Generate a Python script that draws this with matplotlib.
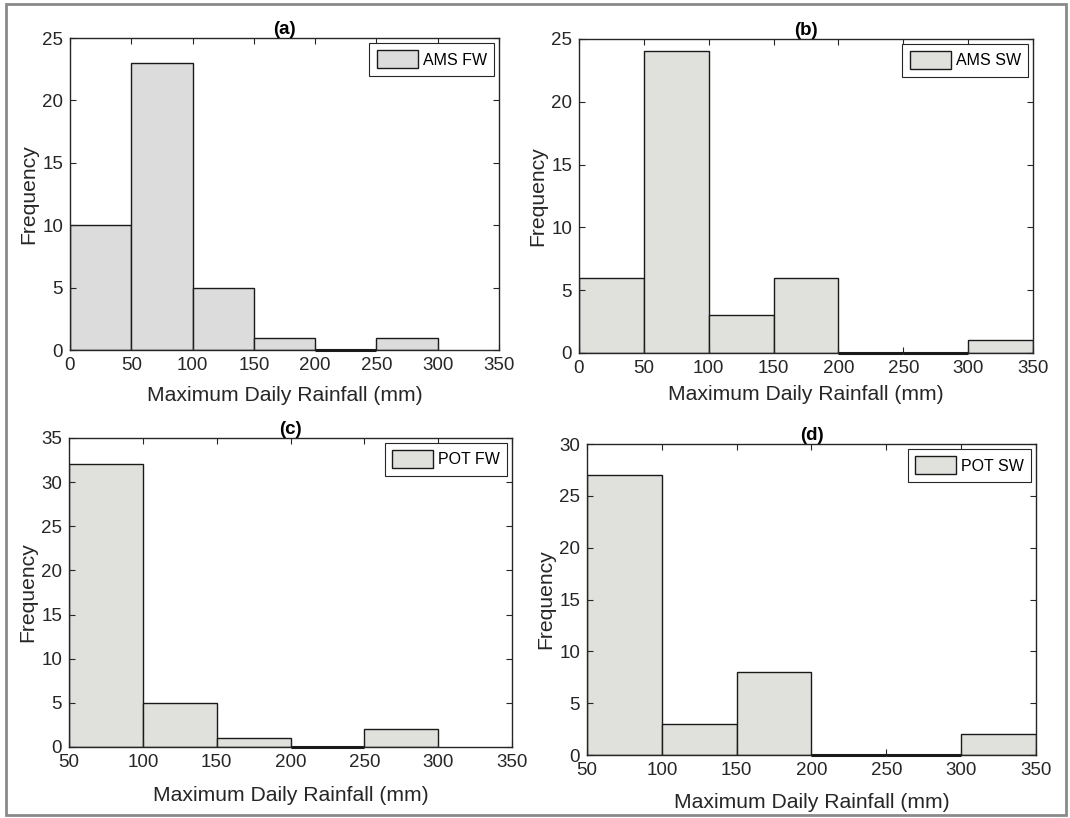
import matplotlib
matplotlib.use("Agg")
import matplotlib.pyplot as plt
from matplotlib.patches import Rectangle

plt.rcParams['font.family'] = ['Liberation Sans', 'DejaVu Sans']

# bin edges (mm) and counts
edges_a = [0, 50, 100, 150, 200, 250, 300]
counts_a = [10, 23, 5, 1, 0, 1]
edges_b = [0, 50, 100, 150, 200, 250, 300, 350]
counts_b = [6, 24, 3, 6, 0, 0, 1]
edges_c = [50, 100, 150, 200, 250, 300]
counts_c = [32, 5, 1, 0, 2]
edges_d = [50, 100, 150, 200, 250, 300, 350]
counts_d = [27, 3, 8, 0, 0, 2]

titles = ['(a)', '(b)', '(c)', '(d)']
labels = ['AMS FW', 'AMS SW', 'POT FW', 'POT SW']
xlims = [(0, 350), (0, 350), (50, 350), (50, 350)]
ylims = [(0, 25), (0, 25), (0, 35), (0, 30)]
yticks = [range(0, 26, 5), range(0, 26, 5), range(0, 36, 5), range(0, 31, 5)]
fills = ['#dcdcdc', '#e0e0dc', '#e0e0dc', '#e0e0dc']
xpads = [9, 6, 10.5, 10]

# axes boxes in figure fractions [left, bottom, width, height]
boxes = [[0.0654, 0.5721, 0.4010, 0.3814],
         [0.5411, 0.5685, 0.4243, 0.3839],
         [0.0645, 0.0868, 0.4140, 0.3778],
         [0.5486, 0.0770, 0.4196, 0.3802]]

edges_all = [edges_a, edges_b, edges_c, edges_d]
counts_all = [counts_a, counts_b, counts_c, counts_d]

fig = plt.figure(figsize=(10.7, 8.18), dpi=100)

for i in range(4):
    ax = fig.add_axes(boxes[i])
    e = edges_all[i]
    c = counts_all[i]
    widths = [e[k + 1] - e[k] for k in range(len(c))]
    bars = ax.bar(e[:-1], c, width=widths, align='edge', color=fills[i],
                  edgecolor='#1a1a1a', linewidth=1.0, label=labels[i])
    # empty bins show as a thick line on the baseline
    for b, n in zip(bars, c):
        if n == 0:
            b.set_linewidth(2.2)
            b.set_zorder(3)
            b.set_clip_on(False)
    ax.set_xlim(*xlims[i])
    ax.set_ylim(*ylims[i])
    ax.set_xticks(range(xlims[i][0], 351, 50))
    ax.set_yticks(list(yticks[i]))
    ax.tick_params(direction='in', top=True, right=True, length=4,
                   width=0.8, labelsize=13.5, colors='#262626', pad=5)
    for s in ax.spines.values():
        s.set_color('#262626')
        s.set_linewidth(1.0)
    ax.set_xlabel('Maximum Daily Rainfall (mm)', fontsize=15.2, color='#262626',
                  labelpad=xpads[i])
    ax.set_ylabel('Frequency', fontsize=15.2, color='#262626', labelpad=3)
    ax.set_title(titles[i], fontsize=13.5, fontweight='bold', pad=3)
    leg = ax.legend(loc='upper right', fancybox=False, framealpha=1,
                    edgecolor='#262626', fontsize=11.5, handlelength=2.6,
                    handleheight=1.4, borderaxespad=0.3, borderpad=0.45,
                    handletextpad=0.3)
    leg.get_frame().set_linewidth(0.8)

# gray outer frame
fig.patches.append(Rectangle((0.006, 0.004), 0.99, 0.991, transform=fig.transFigure,
                             fill=False, edgecolor='#8a8a8a', linewidth=2))

fig.savefig('out.png', dpi=100)
